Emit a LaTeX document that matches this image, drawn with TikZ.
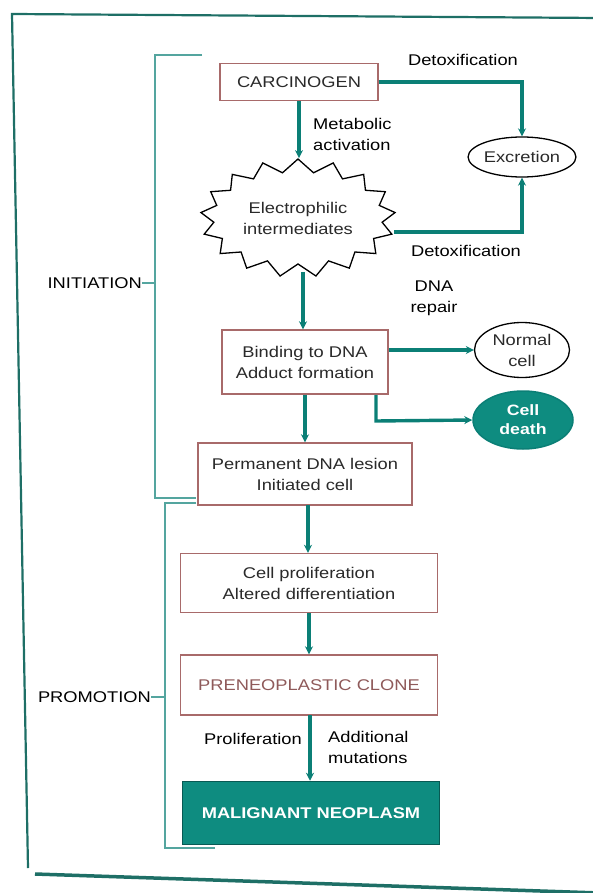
\documentclass[tikz,border=0pt]{standalone}
\usepackage{fontspec}
\setmainfont{Liberation Sans}[FakeStretch=1.18]
\usetikzlibrary{shapes.geometric,shapes.symbols,arrows.meta,calc}
\definecolor{tealline}{HTML}{0B7F76}
\definecolor{tealfill}{HTML}{0E8C80}
\definecolor{boxedge}{HTML}{A86A6A}
\definecolor{frame}{HTML}{1E6F66}
\definecolor{txt}{HTML}{2A2A2A}
\begin{document}
\begin{tikzpicture}[x=1pt,y=-1pt,
  every node/.style={font=\fontsize{15.5}{21}\selectfont, align=center, inner sep=0pt, text=txt},
  stagebox/.style={draw=boxedge, line width=1.4pt, fill=white, minimum width=#1pt},
  flow/.style={draw=tealline, line width=3.4pt, -{Stealth[length=8pt,width=8pt]}},
  brack/.style={draw=tealline!70, line width=2.2pt},
  lbl/.style={font=\fontsize{15.5}{21}\selectfont, text=black}
]
\useasboundingbox (0,0) rectangle (592,893);
% outer frame
\draw[frame, line width=2.2pt] (600,18) -- (12,14) -- (28,868);
\draw[frame, line width=3.5pt] (35,874) -- (600,893);

% nodes
\node[stagebox=158, minimum height=37pt] (carc) at (299,82) {CARCINOGEN};
\node[draw, ellipse, line width=1.3pt, minimum width=95pt, minimum height=40pt] (excr) at (522,157) {Excretion};
\node[starburst, draw, line width=1.3pt, fill=white, starburst points=17, starburst point height=13pt, random starburst=0, minimum width=195pt, minimum height=118pt] (elec) at (298,218) {Electrophilic\\intermediates};
\node[stagebox=166, minimum height=64pt] (bind) at (305,362) {Binding to DNA\\Adduct formation};
\node[draw, ellipse, line width=1.3pt, minimum width=95pt, minimum height=55pt] (normal) at (522,350) {Normal\\cell};
\node[draw=tealline, fill=tealfill, ellipse, line width=1.5pt, minimum width=100pt, minimum height=58pt, text=white, font=\fontsize{15}{19}\selectfont\bfseries] (death) at (523,420) {Cell\\death};
\node[stagebox=214, minimum height=62pt] (perm) at (305,474) {Permanent DNA lesion\\Initiated cell};
\node[stagebox=257, minimum height=59pt] (prolif) at (309,583) {Cell proliferation\\Altered differentiation};
\node[stagebox=257, minimum height=60pt, text=boxedge!85!black] (pre) at (309,685) {PRENEOPLASTIC CLONE};
\node[draw=tealline!70!black, fill=tealfill, line width=1.5pt, minimum width=257pt, minimum height=63pt, text=white, font=\fontsize{15.5}{19}\selectfont\bfseries] (malig) at (311,813) {MALIGNANT NEOPLASM};

% connectors
\coordinate (c1) at (522,82);
\draw[flow] (carc.east) -- (c1) -- (excr.north);
\node[lbl] (detox1) at (463,60) {Detoxification};
\draw[flow] (carc.south) -- (carc.south |- elec.north);
\node[lbl, align=left, anchor=west] (metab) at (313,134) {Metabolic\\activation};
\coordinate (e1) at (394,232);
\coordinate (e2) at (522,232);
\draw[flow] (e1) -- (e2) -- (excr.south);
\node[lbl] (detox2) at (466,251) {Detoxification};
\coordinate (s1) at (303,272);
\draw[flow] (s1) -- (s1 |- bind.north);
\draw[flow] (bind.east |- normal.west) -- (normal.west);
\node[lbl] (repair) at (434,298) {DNA\\repair};
\coordinate (b1) at (376,395);
\coordinate (b2) at (376,421);
\draw[flow] (b1) -- (b2) -- (death.west);
\draw[flow] (bind.south) -- (bind.south |- perm.north);
\coordinate (s2) at (308,505);
\draw[flow] (s2) -- (s2 |- prolif.north);
\draw[flow] (prolif.south) -- (prolif.south |- pre.north);
\coordinate (s3) at (310,715);
\draw[flow] (s3) -- (s3 |- malig.north);
\node[lbl] (prolab) at (253,739) {Proliferation};
\node[lbl, align=left, anchor=west] (addmut) at (328,747) {Additional\\mutations};

% brackets
\coordinate (i1) at (202,55);
\coordinate (i2) at (155,55);
\coordinate (i3) at (155,498);
\coordinate (i4) at (196,498);
\draw[brack] (i1) -- (i2) -- (i3) -- (i4);
\node[lbl, anchor=east] (init) at (142,283) {INITIATION};
\coordinate (i5) at (155,283);
\draw[brack, line width=1.5pt] (init.east) -- (i5);
\coordinate (p1) at (196,503);
\coordinate (p2) at (165,503);
\coordinate (p3) at (165,848);
\coordinate (p4) at (215,848);
\draw[brack] (p1) -- (p2) -- (p3) -- (p4);
\node[lbl, anchor=east] (promo) at (151,697) {PROMOTION};
\coordinate (p5) at (165,697);
\draw[brack, line width=1.5pt] (promo.east) -- (p5);
\end{tikzpicture}
\end{document}
